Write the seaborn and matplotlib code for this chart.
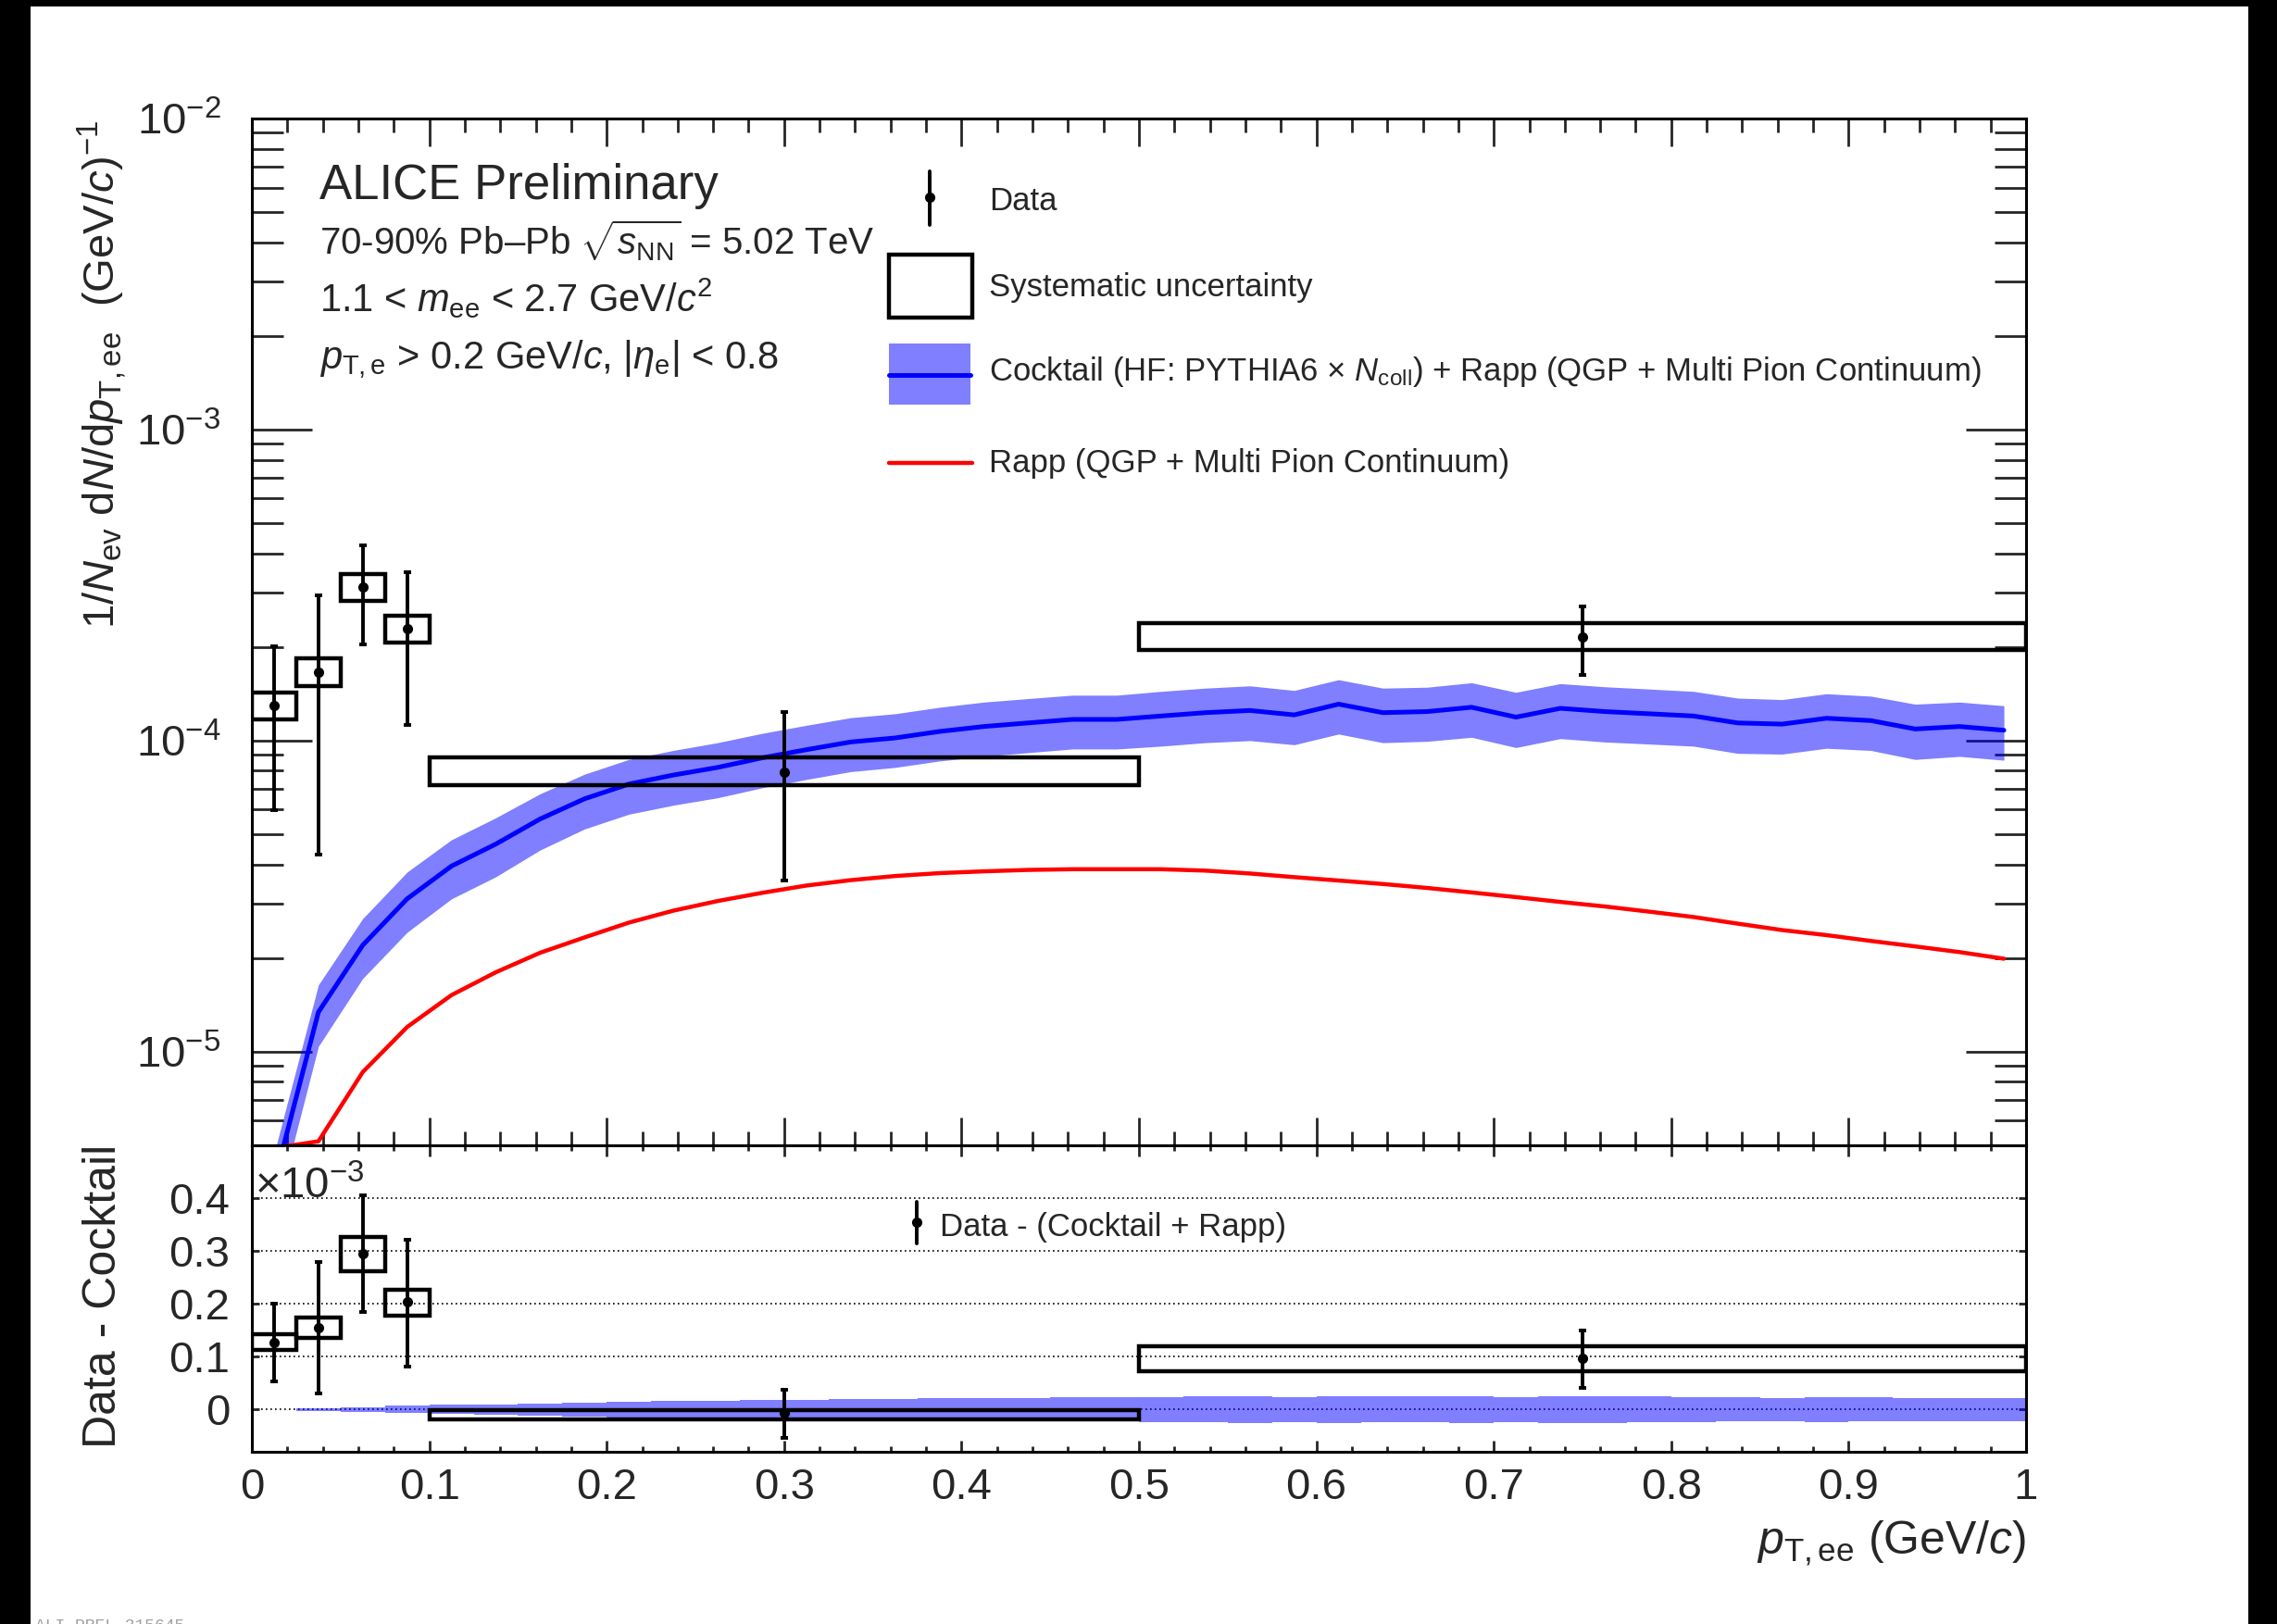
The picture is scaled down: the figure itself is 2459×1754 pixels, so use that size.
import numpy as np
import pandas as pd
import matplotlib
matplotlib.use("Agg")
import matplotlib.pyplot as plt
import seaborn as sns
from matplotlib.patches import Rectangle
from matplotlib.lines import Line2D
from matplotlib.ticker import (LogLocator, NullFormatter, MultipleLocator,
                               FixedLocator, FuncFormatter)

# ---------------- data ----------------
data_pt = [0.0125, 0.0375, 0.0625, 0.0875, 0.30, 0.75]
data_bin_lo = [0.0, 0.025, 0.05, 0.075, 0.10, 0.50]
data_bin_hi = [0.025, 0.05, 0.075, 0.10, 0.50, 1.00]
data_y = [1.30e-4, 1.66e-4, 3.12e-4, 2.29e-4, 7.9e-5, 2.15e-4]
data_stat_hi = [2.01e-4, 2.93e-4, 4.25e-4, 3.47e-4, 1.24e-4, 2.70e-4]
data_stat_lo = [5.98e-5, 4.30e-5, 2.04e-4, 1.12e-4, 3.54e-5, 1.63e-4]
data_sys_hi = [1.43e-4, 1.84e-4, 3.44e-4, 2.52e-4, 8.83e-5, 2.39e-4]
data_sys_lo = [1.17e-4, 1.50e-4, 2.82e-4, 2.06e-4, 7.19e-5, 1.95e-4]

# Data - (Cocktail + Rapp), in units of 1e-3
diff_y = [0.127, 0.154, 0.295, 0.203, -0.006, 0.097]
diff_stat_hi = [0.200, 0.280, 0.405, 0.322, 0.037, 0.150]
diff_stat_lo = [0.053, 0.030, 0.184, 0.081, -0.054, 0.041]
diff_sys_hi = [0.142, 0.174, 0.327, 0.227, -0.002, 0.119]
diff_sys_lo = [0.112, 0.135, 0.261, 0.177, -0.018, 0.073]

model_pt = [0.0125, 0.0375, 0.0625, 0.0875, 0.1125, 0.1375, 0.1625, 0.1875,
            0.2125, 0.2375, 0.2625, 0.2875, 0.3125, 0.3375, 0.3625, 0.3875,
            0.4125, 0.4375, 0.4625, 0.4875, 0.5125, 0.5375, 0.5625, 0.5875,
            0.6125, 0.6375, 0.6625, 0.6875, 0.7125, 0.7375, 0.7625, 0.7875,
            0.8125, 0.8375, 0.8625, 0.8875, 0.9125, 0.9375, 0.9625, 0.9875]
cocktail_y = [3.8e-6, 1.34e-5, 2.2e-5, 3.1e-5, 3.95e-5, 4.65e-5, 5.6e-5, 6.5e-5,
              7.25e-5, 7.75e-5, 8.2e-5, 8.8e-5, 9.35e-5, 9.9e-5, 1.02e-4, 1.07e-4,
              1.11e-4, 1.14e-4, 1.17e-4, 1.17e-4, 1.20e-4, 1.23e-4, 1.25e-4, 1.21e-4,
              1.31e-4, 1.23e-4, 1.24e-4, 1.28e-4, 1.19e-4, 1.27e-4, 1.24e-4, 1.22e-4,
              1.20e-4, 1.14e-4, 1.13e-4, 1.18e-4, 1.16e-4, 1.09e-4, 1.11e-4, 1.08e-4]
cocktail_err = [0.9e-6, 3.0e-6, 4.8e-6, 6.8e-6, 8.5e-6, 1.0e-5, 1.15e-5, 1.3e-5,
                1.45e-5, 1.55e-5, 1.65e-5, 1.75e-5, 1.85e-5, 1.95e-5, 2.0e-5, 2.1e-5,
                2.2e-5, 2.25e-5, 2.3e-5, 2.3e-5, 2.4e-5, 2.45e-5, 2.5e-5, 2.4e-5,
                2.6e-5, 2.45e-5, 2.45e-5, 2.55e-5, 2.4e-5, 2.55e-5, 2.5e-5, 2.45e-5,
                2.4e-5, 2.3e-5, 2.25e-5, 2.35e-5, 2.3e-5, 2.2e-5, 2.2e-5, 2.15e-5]
rapp_y = [4.9e-6, 5.15e-6, 8.6e-6, 1.2e-5, 1.52e-5, 1.8e-5, 2.08e-5, 2.33e-5,
          2.6e-5, 2.84e-5, 3.05e-5, 3.24e-5, 3.42e-5, 3.56e-5, 3.67e-5, 3.75e-5,
          3.8e-5, 3.84e-5, 3.86e-5, 3.86e-5, 3.86e-5, 3.82e-5, 3.74e-5, 3.64e-5,
          3.55e-5, 3.46e-5, 3.36e-5, 3.25e-5, 3.14e-5, 3.03e-5, 2.93e-5, 2.82e-5,
          2.71e-5, 2.58e-5, 2.46e-5, 2.37e-5, 2.27e-5, 2.18e-5, 2.09e-5, 1.99e-5]
model_bin_width = 0.025

x_ticks_labels = ["0", "0.1", "0.2", "0.3", "0.4", "0.5", "0.6", "0.7", "0.8", "0.9", "1"]
ratio_ticks = [0.0, 0.1, 0.2, 0.3, 0.4]

# ---------------- style ----------------
sns.set_theme(style="white")
plt.rcParams["font.family"] = ["Liberation Sans", "DejaVu Sans"]
plt.rcParams["mathtext.fontset"] = "custom"
plt.rcParams["mathtext.rm"] = "Liberation Sans"
plt.rcParams["mathtext.it"] = "Liberation Sans:italic"
plt.rcParams["mathtext.bf"] = "Liberation Sans:bold"
plt.rcParams["axes.unicode_minus"] = True

W, H = 2459, 1754
fig = plt.figure(figsize=(W / 100, H / 100), dpi=100)
fig.patch.set_facecolor("black")


def fx(X):
    return X / W


def fy(Y):
    return 1 - Y / H


fig.add_artist(Rectangle((fx(33), 0), (2428 - 33) / W, (H - 7) / H,
                         transform=fig.transFigure, facecolor="white",
                         edgecolor="none", zorder=-10))

ax = fig.add_axes([fx(272), fy(1237), (2188 - 272) / W, (1237 - 128) / H])
ax2 = fig.add_axes([fx(272), fy(1568), (2188 - 272) / W, (1568 - 1237) / H])

df = pd.DataFrame({"pt": model_pt, "cocktail": cocktail_y,
                   "err": cocktail_err, "rapp": rapp_y})
df["lo"] = df["cocktail"] - df["err"]
df["hi"] = df["cocktail"] + df["err"]

# ---------------- upper panel ----------------
ax.set_yscale("log")
ax.set_xlim(0, 1)
ax.set_ylim(5e-6, 1e-2)

ax.fill_between(df["pt"], df["lo"], df["hi"], color="#0000ff", alpha=0.5,
                linewidth=0, zorder=1)
sns.lineplot(data=df, x="pt", y="cocktail", ax=ax, color="#0000ff", lw=3.6,
             estimator=None, sort=False, legend=False, zorder=2)
sns.lineplot(data=df, x="pt", y="rapp", ax=ax, color="#ff0000", lw=3.2,
             estimator=None, sort=False, legend=False, zorder=2)
ax.set_xlabel("")
ax.set_ylabel("")

dy = np.array(data_y)
ax.bar(data_bin_lo, np.array(data_sys_hi) - np.array(data_sys_lo),
       bottom=data_sys_lo, width=np.array(data_bin_hi) - np.array(data_bin_lo),
       align="edge", fill=False, edgecolor="black", linewidth=3.2, zorder=3)
ax.errorbar(data_pt, dy, yerr=[dy - np.array(data_stat_lo), np.array(data_stat_hi) - dy],
            fmt="o", color="black", ms=7, lw=2.8, capsize=3, capthick=2.8, zorder=4)

ax.xaxis.set_major_locator(MultipleLocator(0.1))
ax.xaxis.set_minor_locator(MultipleLocator(0.02))
ax.yaxis.set_major_locator(LogLocator(base=10, numticks=10))
ax.yaxis.set_minor_locator(LogLocator(base=10, subs=np.arange(2, 10), numticks=30))
ax.yaxis.set_minor_formatter(NullFormatter())
ax.tick_params(axis="x", which="major", direction="in", top=True, bottom=True,
               length=21.5, width=2, labelbottom=False)
ax.tick_params(axis="x", which="minor", direction="in", top=True, bottom=True,
               length=10.5, width=2)
ax.tick_params(axis="y", which="major", direction="in", left=True, right=True,
               length=47, width=2, labelsize=34, pad=24)
ax.tick_params(axis="y", which="minor", direction="in", left=True, right=True,
               length=24.5, width=2)
for s in ax.spines.values():
    s.set_linewidth(2.2)
    s.set_color("black")

# ---------------- lower panel ----------------
ax2.set_xlim(0, 1)
ax2.set_ylim(-0.08, 0.5)
edges = np.append(np.array(model_pt[1:]) - model_bin_width / 2, 1.0)
band = np.array(cocktail_err[1:]) / 1e-3
band_ext = np.append(band, band[-1])
ax2.fill_between(edges, -band_ext, band_ext, step="post", color="#0000ff",
                 alpha=0.5, linewidth=0, zorder=1)
ax2.yaxis.set_major_locator(FixedLocator(ratio_ticks))
ax2.yaxis.set_major_formatter(FuncFormatter(lambda v, p: "0" if abs(v) < 1e-9 else f"{v:.1f}"))
ax2.yaxis.grid(True, linestyle=(0, (1, 2)), color="black", linewidth=1.2, zorder=1.5)
ax2.xaxis.grid(False)

ddy = np.array(diff_y)
ax2.bar(data_bin_lo, np.array(diff_sys_hi) - np.array(diff_sys_lo),
        bottom=diff_sys_lo, width=np.array(data_bin_hi) - np.array(data_bin_lo),
        align="edge", fill=False, edgecolor="black", linewidth=3.2, zorder=3)
ax2.errorbar(data_pt, ddy, yerr=[ddy - np.array(diff_stat_lo), np.array(diff_stat_hi) - ddy],
             fmt="o", color="black", ms=7, lw=2.8, capsize=3, capthick=2.8, zorder=4)
ax2.set_xlabel("")
ax2.set_ylabel("")

ax2.xaxis.set_major_locator(MultipleLocator(0.1))
ax2.xaxis.set_minor_locator(MultipleLocator(0.02))
ax2.xaxis.set_major_formatter(FuncFormatter(lambda v, p: x_ticks_labels[int(round(v * 10))]
                                            if 0 <= round(v * 10) <= 10 else ""))
ax2.tick_params(axis="x", which="major", direction="in", top=True, bottom=True,
                length=8.5, width=2, labelsize=34, pad=12)
ax2.tick_params(axis="x", which="minor", direction="in", top=True, bottom=True,
                length=4.5, width=2)
ax2.tick_params(axis="y", which="major", direction="in", left=True, right=True,
                length=6, width=2, labelsize=34, pad=17)
for s in ax2.spines.values():
    s.set_linewidth(2.2)
    s.set_color("black")

# ---------------- texts ----------------
fig.text(fx(345), fy(215), "ALICE Preliminary", fontsize=38, va="baseline")
fig.text(fx(345), fy(275), r"70-90% Pb–Pb $\sqrt{s_{\mathrm{NN}}}$ = 5.02 TeV",
         fontsize=29, va="baseline")
fig.text(fx(345), fy(337), r"1.1 < $m_{\mathrm{ee}}$ < 2.7 GeV/$c^{2}$",
         fontsize=30, va="baseline")
fig.text(fx(345), fy(398), r"$p_{\mathrm{T,e}}$ > 0.2 GeV/$c$, |$\eta_{\mathrm{e}}$| < 0.8",
         fontsize=30, va="baseline")

# legend (upper)
fig.add_artist(Line2D([fx(1004), fx(1004)], [fy(185), fy(243)], transform=fig.transFigure,
                      color="black", lw=2.8))
fig.add_artist(Line2D([fx(1004)], [fy(213)], transform=fig.transFigure, marker="o",
                      ms=7, color="black"))
fig.add_artist(Rectangle((fx(960), fy(343)), 90 / W, 68 / H, transform=fig.transFigure,
                         fill=False, edgecolor="black", lw=3.2))
fig.add_artist(Rectangle((fx(960), fy(437)), 88 / W, 66 / H, transform=fig.transFigure,
                         facecolor="#0000ff", alpha=0.5, lw=0))
fig.add_artist(Line2D([fx(960), fx(1048)], [fy(405), fy(405)], transform=fig.transFigure,
                      color="#0000ff", lw=3.6))
fig.add_artist(Line2D([fx(960), fx(1050)], [fy(500), fy(500)], transform=fig.transFigure,
                      color="#ff0000", lw=3.2))
fig.text(fx(1068), fy(227), "Data", fontsize=25, va="baseline")
fig.text(fx(1068), fy(320), "Systematic uncertainty", fontsize=25, va="baseline")
fig.text(fx(1068), fy(411),
         r"Cocktail (HF: PYTHIA6 × $N_{\mathrm{coll}}$) + Rapp (QGP + Multi Pion Continuum)",
         fontsize=25, va="baseline")
fig.text(fx(1068), fy(510), "Rapp (QGP + Multi Pion Continuum)", fontsize=25, va="baseline")

# legend (lower)
fig.add_artist(Line2D([fx(990), fx(990)], [fy(1298), fy(1343)], transform=fig.transFigure,
                      color="black", lw=2.8))
fig.add_artist(Line2D([fx(990)], [fy(1320)], transform=fig.transFigure, marker="o",
                      ms=7, color="black"))
fig.text(fx(1015), fy(1335), "Data - (Cocktail + Rapp)", fontsize=25, va="baseline")
fig.text(fx(275), fy(1294), r"$\times$10$^{-3}$", fontsize=34, va="baseline")

# axis titles
fig.text(fx(110), fy(130), r"1/$N_{\mathrm{ev}}$ d$N$/d$p_{\mathrm{T,ee}}$  (GeV/$c$)$^{-1}$",
         fontsize=34, rotation=90, ha="center", va="top")
fig.text(fx(112), fy(1400), "Data - Cocktail", fontsize=36, rotation=90,
         ha="center", va="center")
fig.text(fx(2188), fy(1678), r"$p_{\mathrm{T,ee}}$ (GeV/$c$)", fontsize=36,
         ha="right", va="baseline")

fig.text(fx(38), fy(1748), "ALI-PREL-315645", fontsize=13, color="#a0a0a0",
         family="Liberation Mono", va="top")

fig.savefig("out.png", dpi=100, facecolor=fig.get_facecolor())
